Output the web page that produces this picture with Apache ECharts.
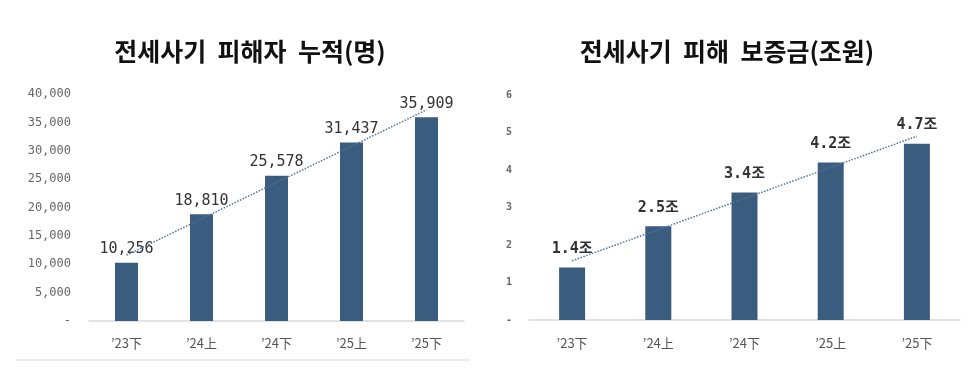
<!DOCTYPE html>
<html>
<head>
<meta charset="utf-8">
<script src="https://cdn.jsdelivr.net/npm/echarts@6/dist/echarts.min.js"></script>
<style>
html,body{margin:0;padding:0;background:#fff;}
#c{width:979px;height:375px;}
</style>
</head>
<body>
<div id="c"></div>
<script>
const categories = ['’23下', '’24上', '’24下', '’25上', '’25下'];
const victims = [10256, 18810, 25578, 31437, 35909];
const deposits = [1.4, 2.5, 3.4, 4.2, 4.7];
// trend line endpoints (first and last category)
const victimTrend = [11600, null, null, null, 37200];
const depositTrend = [1.58, null, null, null, 4.9];
const leftTitle = '전세사기  피해자  누적(명)';
const rightTitle = '전세사기  피해  보증금(조원)';

const mono = '"DejaVu Sans Mono", "Liberation Mono", "Noto Sans CJK KR", monospace';
const kr = '"Noto Sans CJK KR", "Noto Sans", sans-serif';
const barColor = '#3a5c7e';
const trendColor = '#4f7593';

const chart = echarts.init(document.getElementById('c'));
chart.setOption({
  animation: false,
  backgroundColor: '#fff',
  title: [
    {text: leftTitle, left: 245, top: 34, textAlign: 'center',
     textStyle: {fontFamily: kr, fontSize: 25, fontWeight: 'bold', color: '#111'}},
    {text: rightTitle, left: 722, top: 34, textAlign: 'center',
     textStyle: {fontFamily: kr, fontSize: 25, fontWeight: 'bold', color: '#111'}}
  ],
  grid: [
    {left: 89, width: 375, top: 94, height: 227},
    {left: 529, width: 431, top: 95, height: 225}
  ],
  xAxis: [
    {type: 'category', gridIndex: 0, data: categories,
     axisLine: {lineStyle: {color: '#d9d9d9', width: 1.5}}, axisTick: {show: false},
     axisLabel: {margin: 16, fontFamily: kr, fontSize: 13, color: '#555'}},
    {type: 'category', gridIndex: 1, data: categories,
     axisLine: {lineStyle: {color: '#d9d9d9', width: 1.5}}, axisTick: {show: false},
     axisLabel: {margin: 17, fontFamily: kr, fontSize: 13, color: '#555'}}
  ],
  yAxis: [
    {type: 'value', gridIndex: 0, min: 0, max: 40000, interval: 5000,
     splitLine: {show: false}, axisLine: {show: false}, axisTick: {show: false},
     axisLabel: {margin: 18, fontFamily: mono, fontSize: 12, color: '#666',
       formatter: v => v === 0 ? '-' : v.toLocaleString('en-US')}},
    {type: 'value', gridIndex: 1, min: 0, max: 6, interval: 1,
     splitLine: {show: false}, axisLine: {show: false}, axisTick: {show: false},
     axisLabel: {margin: 17, fontFamily: mono, fontSize: 10, fontWeight: 'bold', color: '#666',
       formatter: v => v === 0 ? '-' : String(v)}}
  ],
  series: [
    {type: 'bar', xAxisIndex: 0, yAxisIndex: 0, data: victims, barWidth: 23,
     itemStyle: {color: barColor},
     label: {show: true, position: 'top', distance: 6, fontFamily: mono, fontSize: 15, color: '#333',
       formatter: p => p.value.toLocaleString('en-US')}},
    {type: 'line', xAxisIndex: 0, yAxisIndex: 0, data: victimTrend, connectNulls: true,
     symbol: 'none', z: 5, lineStyle: {type: 'dotted', color: trendColor, width: 1.5}},
    {type: 'bar', xAxisIndex: 1, yAxisIndex: 1, data: deposits, barWidth: 26,
     itemStyle: {color: barColor},
     label: {show: true, position: 'top', distance: 11, fontFamily: mono, fontSize: 15, fontWeight: 'bold', color: '#333',
       formatter: p => p.value.toFixed(1) + '조'}},
    {type: 'line', xAxisIndex: 1, yAxisIndex: 1, data: depositTrend, connectNulls: true,
     symbol: 'none', z: 5, lineStyle: {type: 'dotted', color: trendColor, width: 1.5}}
  ],
  graphic: [
    {type: 'line', shape: {x1: 16, y1: 360, x2: 470, y2: 360},
     style: {stroke: '#e6e6e6', lineWidth: 1.5}}
  ]
});
</script>
</body>
</html>
